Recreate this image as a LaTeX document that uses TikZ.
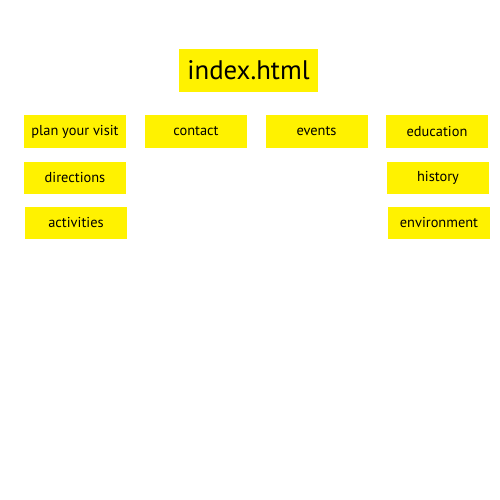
\documentclass[tikz,border=0pt]{standalone}
\usepackage{fontspec}
\setmainfont{PT Sans}
\definecolor{boxyellow}{RGB}{255,242,0}
\begin{document}
\begin{tikzpicture}[x=1pt,y=-1pt,
  box/.style={fill=boxyellow, draw=none, inner sep=0pt, minimum width=102pt, minimum height=32pt, font=\fontsize{14.4}{16}\selectfont, text=black},
  bigbox/.style={fill=boxyellow, draw=none, inner sep=0pt, minimum width=139pt, minimum height=43pt, font=\fontsize{26.8}{30}\selectfont, text=black}]
\useasboundingbox (0,0) rectangle (500,500);
\node[bigbox] (index) at (248.5,70.5) {index.html};
\node[box] (plan) at (75,131.5) {plan your visit};
\node[box] (contact) at (196,131.5) {contact};
\node[box] (events) at (316.5,131.5) {events};
\node[box] (education) at (437,131.5) {education};
\node[box] (directions) at (75,177.5) {directions};
\node[box] (history) at (438,177.5) {history};
\node[box] (activities) at (76,222.5) {activities};
\node[box] (environment) at (439,222.5) {environment};
\end{tikzpicture}
\end{document}
